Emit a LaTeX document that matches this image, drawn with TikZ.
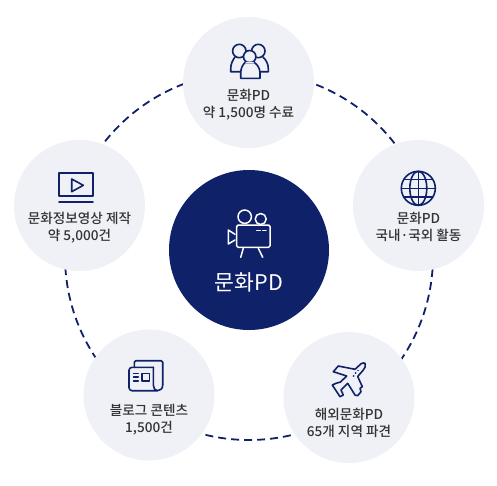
\documentclass[tikz,border=0pt]{standalone}
\usepackage{fontspec}
\setmainfont{Noto Sans CJK KR Medium}
\newfontfamily\hubfont{Noto Sans CJK KR}
\usepackage{xcolor}
\definecolor{navyfill}{HTML}{0F2269}
\definecolor{bubblefill}{HTML}{F0F1F7}
\definecolor{labelgray}{HTML}{333333}

\begin{document}
\begin{tikzpicture}[x=1pt,y=-1pt,
  bubble/.style={circle,fill=bubblefill,minimum size=131pt,inner sep=0pt},
  hub/.style={circle,fill=navyfill,minimum size=160pt,inner sep=0pt},
  caption/.style={align=center,text=labelgray,font=\fontsize{13.6}{17}\selectfont,inner sep=0pt},
  ringline/.style={navyfill,line width=1.8pt,dash pattern=on 8pt off 5pt},
  iconline/.style={navyfill,line width=1.6pt,line join=round,line cap=round},
  hubline/.style={white,line width=1.5pt,line join=round,line cap=round}]
\useasboundingbox (0,0) rectangle (497,485);
\coordinate (ringcenter) at (249,256);
\draw[ringline] (ringcenter) circle[radius=184];
% bubbles
\node[hub] (film) at (249,250) {};
\node[bubble] (grads) at (248.5,82.5) {};
\node[bubble] (videos) at (79.5,205.5) {};
\node[bubble] (activity) at (418.5,205.5) {};
\node[bubble] (blogs) at (149,395) {};
\node[bubble] (abroad) at (349,397.5) {};
% captions
\node[inner sep=0pt,white,font=\hubfont\fontsize{21.6}{24}\selectfont] (filmtext) at (249,282) {문화PD};
\node[caption] (gradstext) at (248.5,104.5) {문화PD\\약 1,500명 수료};
\node[caption] (videostext) at (79.5,227.5) {문화정보영상 제작\\약 5,000건};
\node[caption] (activitytext) at (418.5,227) {문화PD\\국내·국외 활동};
\node[caption] (blogstext) at (149,420) {블로그 콘텐츠\\1,500건};
\node[caption] (abroadtext) at (349,423) {해외문화PD\\65개 지역 파견};
% film camera
\draw[hubline] (244.7,216.7) circle[radius=6.7];
\draw[hubline] (260.7,219) circle[radius=5.5];
\draw[hubline,rounded corners=1.5pt] (236.7,225) rectangle (270,247.3);
\draw[hubline] (235,234.3) -- (228.3,230) -- (228.3,244) -- (235,240);
\draw[hubline] (243.3,248.3) -- (240.7,257.3);
\draw[hubline] (258.3,248.3) -- (262.7,257.3);
\draw[hubline] (256.7,230.3) -- (260.2,230.3);
\draw[hubline] (262.7,230.3) -- (266,230.3);
% people
\draw[iconline] (239.3,51) circle[radius=6.7];
\draw[iconline] (258.3,51) circle[radius=6.7];
\draw[iconline] (240.7,71.7) -- (230.7,71.7) -- (230.7,69) .. controls (230.7,64) and (232.5,60.5) .. (235,57);
\draw[iconline] (260,71.7) -- (268.3,71.7) -- (268.3,69) .. controls (268.3,64) and (266.5,60.5) .. (263,57);
\draw[iconline,fill=bubblefill] (249.7,56.7) circle[radius=6.2];
\draw[iconline,fill=bubblefill] (240.7,78.3) -- (260,78.3) -- (260,73) .. controls (260,68) and (257,64.5) .. (254.5,62.5) -- (245,62.5) .. controls (243,64.5) and (240.7,68) .. (240.7,73) -- cycle;
\draw[iconline,bubblefill,line width=1.8pt] (246.3,62.5) -- (253.2,62.5);
% screen
\draw[iconline] (59,172.7) rectangle (93,195.7);
\draw[iconline] (59,202) -- (93,202);
\draw[iconline] (71.7,179) -- (71.7,191.7) -- (83.3,185.3) -- cycle;
% globe
\draw[iconline] (418.3,188.3) circle[radius=17];
\draw[iconline] (418.3,171.3) -- (418.3,205.3);
\draw[iconline] (401.3,188.3) -- (435.3,188.3);
\draw[iconline] (418.3,188.3) ellipse[x radius=8.5,y radius=17];
\draw[iconline] (404,179.5) -- (432.6,179.5);
\draw[iconline] (404,197) -- (432.6,197);
% newspaper
\draw[iconline,rounded corners=1.5pt] (134.3,367.3) -- (134.3,360.7) -- (162.7,360.7) -- (162.7,385);
\draw[iconline] (162.7,385) .. controls (162.7,389) and (160,390.7) .. (157.3,390.7) .. controls (155,390.7) and (153.3,388) .. (153.3,385) -- (153.3,367.3);
\draw[iconline,rounded corners=3pt] (157.3,390.7) -- (129,390.7) -- (129,367.3) -- (153.3,367.3);
\draw[iconline] (141.7,373.3) rectangle (149.3,381);
\draw[iconline] (133.6,373.3) -- (138.3,373.3);
\draw[iconline] (133.6,377.2) -- (138.3,377.2);
\draw[iconline] (133.6,381) -- (138.3,381);
% plane
\draw[iconline] (365,363.3) .. controls (366,366) and (365,368) .. (363.3,370) -- (357.7,376.5) -- (362.3,386.7) -- (360,388.3) -- (361,391.7) -- (357.7,395.7) -- (355,395) -- (347.7,383.3) -- (341,390) -- (343.3,395) -- (340,396.7) -- (332.3,385) -- (336,383.3) -- (340.5,382) -- (346.7,376) -- (333.3,371.7) -- (338.3,366) -- (355,369.3) -- (361,363.8) .. controls (362.5,362.8) and (364,362.8) .. (365,363.3) -- cycle;
\draw[iconline] (358,370.5) -- (358.2,370.5);
\draw[iconline] (355.5,373) -- (355.7,373);
\draw[iconline] (353.5,376) -- (353.7,376);
\end{tikzpicture}
\end{document}
